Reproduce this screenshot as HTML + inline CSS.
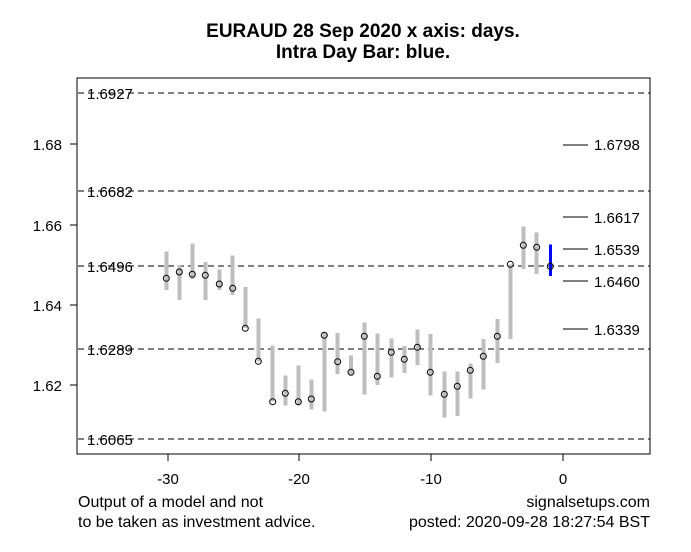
<!DOCTYPE html>
<html><head><style>body{margin:0;background:#fff}svg{display:block}text{font-family:"Liberation Sans",Arial,sans-serif}line,rect{shape-rendering:crispEdges}</style></head><body>
<svg width="691" height="552" viewBox="0 0 691 552" xmlns="http://www.w3.org/2000/svg">
<rect width="691" height="552" fill="#fff"/>
<text x="363" y="37" font-size="19" font-weight="bold" text-anchor="middle">EURAUD 28 Sep 2020 x axis: days.</text>
<text x="363" y="58" font-size="19" font-weight="bold" text-anchor="middle">Intra Day Bar: blue.</text>
<g stroke="#000" stroke-dasharray="6,4" stroke-width="1">
<line x1="78" y1="93" x2="650" y2="93"/>
<line x1="78" y1="191" x2="650" y2="191"/>
<line x1="78" y1="266" x2="650" y2="266"/>
<line x1="78" y1="349" x2="650" y2="349"/>
<line x1="78" y1="439" x2="650" y2="439"/>
</g>
<g font-size="15" fill="#000">
<text x="87" y="99">1.6927</text>
<text x="87" y="197">1.6682</text>
<text x="87" y="272">1.6496</text>
<text x="87" y="355">1.6289</text>
<text x="87" y="445">1.6065</text>
</g>
<g stroke="#000" stroke-width="1">
<line x1="563" y1="145" x2="588" y2="145"/>
<line x1="563" y1="217" x2="588" y2="217"/>
<line x1="563" y1="249" x2="588" y2="249"/>
<line x1="563" y1="281" x2="588" y2="281"/>
<line x1="563" y1="329" x2="588" y2="329"/>
</g>
<g font-size="15">
<text x="594" y="150">1.6798</text>
<text x="594" y="223">1.6617</text>
<text x="594" y="255">1.6539</text>
<text x="594" y="287">1.6460</text>
<text x="594" y="335">1.6339</text>
</g>
<g stroke="#bebebe" stroke-width="4">
<line x1="166.3" y1="251.7" x2="166.3" y2="290"/>
<line x1="179.3" y1="265" x2="179.3" y2="300"/>
<line x1="192.3" y1="243.7" x2="192.3" y2="279"/>
<line x1="205.3" y1="262" x2="205.3" y2="300"/>
<line x1="219.3" y1="269.3" x2="219.3" y2="290"/>
<line x1="232.7" y1="255.3" x2="232.7" y2="295"/>
<line x1="245.3" y1="287" x2="245.3" y2="328"/>
<line x1="258.3" y1="318.7" x2="258.3" y2="361.3"/>
<line x1="272.7" y1="345.3" x2="272.7" y2="401.7"/>
<line x1="285.3" y1="375.3" x2="285.3" y2="405.7"/>
<line x1="298.3" y1="365.3" x2="298.3" y2="405.7"/>
<line x1="311.3" y1="379.3" x2="311.3" y2="409.3"/>
<line x1="324.3" y1="332" x2="324.3" y2="411.7"/>
<line x1="337.7" y1="333" x2="337.7" y2="374"/>
<line x1="351" y1="355.7" x2="351" y2="375.7"/>
<line x1="364.3" y1="322.7" x2="364.3" y2="394.7"/>
<line x1="377.3" y1="333.7" x2="377.3" y2="385"/>
<line x1="391.3" y1="338.7" x2="391.3" y2="377.3"/>
<line x1="404.3" y1="346" x2="404.3" y2="373"/>
<line x1="417.3" y1="329.3" x2="417.3" y2="365"/>
<line x1="430.3" y1="334" x2="430.3" y2="395.7"/>
<line x1="444.3" y1="371.3" x2="444.3" y2="417.3"/>
<line x1="457.3" y1="371.3" x2="457.3" y2="416"/>
<line x1="470.3" y1="363.3" x2="470.3" y2="398.3"/>
<line x1="483.3" y1="339" x2="483.3" y2="389.7"/>
<line x1="497.3" y1="319" x2="497.3" y2="363"/>
<line x1="510.3" y1="264.3" x2="510.3" y2="339"/>
<line x1="523.3" y1="226.7" x2="523.3" y2="269"/>
<line x1="536.7" y1="232.7" x2="536.7" y2="274"/>
</g>
<line x1="550.3" y1="244.3" x2="550.3" y2="276" stroke="#0000ff" stroke-width="3"/>
<g fill="none" stroke="#000" stroke-width="1">
<circle cx="166.3" cy="278.3" r="3"/><circle cx="179.3" cy="272" r="3"/><circle cx="192.3" cy="274.3" r="3"/>
<circle cx="205.3" cy="275.3" r="3"/><circle cx="219.3" cy="284" r="3"/><circle cx="232.7" cy="288.3" r="3"/>
<circle cx="245.3" cy="328.3" r="3"/><circle cx="258.3" cy="361.3" r="3"/><circle cx="272.7" cy="401.7" r="3"/>
<circle cx="285.3" cy="393.3" r="3"/><circle cx="298.3" cy="401.7" r="3"/><circle cx="311.3" cy="399" r="3"/>
<circle cx="324.3" cy="335.3" r="3"/><circle cx="337.7" cy="361.7" r="3"/><circle cx="351" cy="372.3" r="3"/>
<circle cx="364.3" cy="336.3" r="3"/><circle cx="377.3" cy="376.3" r="3"/><circle cx="391.3" cy="352.3" r="3"/>
<circle cx="404.3" cy="359.3" r="3"/><circle cx="417.3" cy="347.3" r="3"/><circle cx="430.3" cy="372.3" r="3"/>
<circle cx="444.3" cy="394.3" r="3"/><circle cx="457.3" cy="386.3" r="3"/><circle cx="470.3" cy="370.3" r="3"/>
<circle cx="483.3" cy="356.3" r="3"/><circle cx="497.3" cy="336.3" r="3"/><circle cx="510.3" cy="264.3" r="3"/>
<circle cx="523.3" cy="245.3" r="3"/><circle cx="536.7" cy="247.3" r="3"/><circle cx="550.3" cy="266.3" r="3"/>
</g>
<rect x="77" y="78" width="573" height="376" fill="none" stroke="#000" stroke-width="1"/>
<g stroke="#000" stroke-width="1">
<line x1="70" y1="144" x2="77" y2="144"/><line x1="70" y1="225" x2="77" y2="225"/>
<line x1="70" y1="305" x2="77" y2="305"/><line x1="70" y1="385" x2="77" y2="385"/>
<line x1="168" y1="454" x2="168" y2="461"/><line x1="299" y1="454" x2="299" y2="461"/>
<line x1="431" y1="454" x2="431" y2="461"/><line x1="563" y1="454" x2="563" y2="461"/>
</g>
<g font-size="15" text-anchor="end">
<text x="62" y="150">1.68</text><text x="62" y="231">1.66</text>
<text x="62" y="311">1.64</text><text x="62" y="391">1.62</text>
</g>
<g font-size="15" text-anchor="middle">
<text x="168" y="484">-30</text><text x="299" y="484">-20</text>
<text x="431" y="484">-10</text><text x="563" y="484">0</text>
</g>
<text x="78" y="507" font-size="16">Output of a model and not</text>
<text x="78" y="527" font-size="16">to be taken as investment advice.</text>
<text x="650" y="507" font-size="16" text-anchor="end">signalsetups.com</text>
<text x="650" y="527" font-size="16" text-anchor="end">posted: 2020-09-28 18:27:54 BST</text>
</svg>
</body></html>
